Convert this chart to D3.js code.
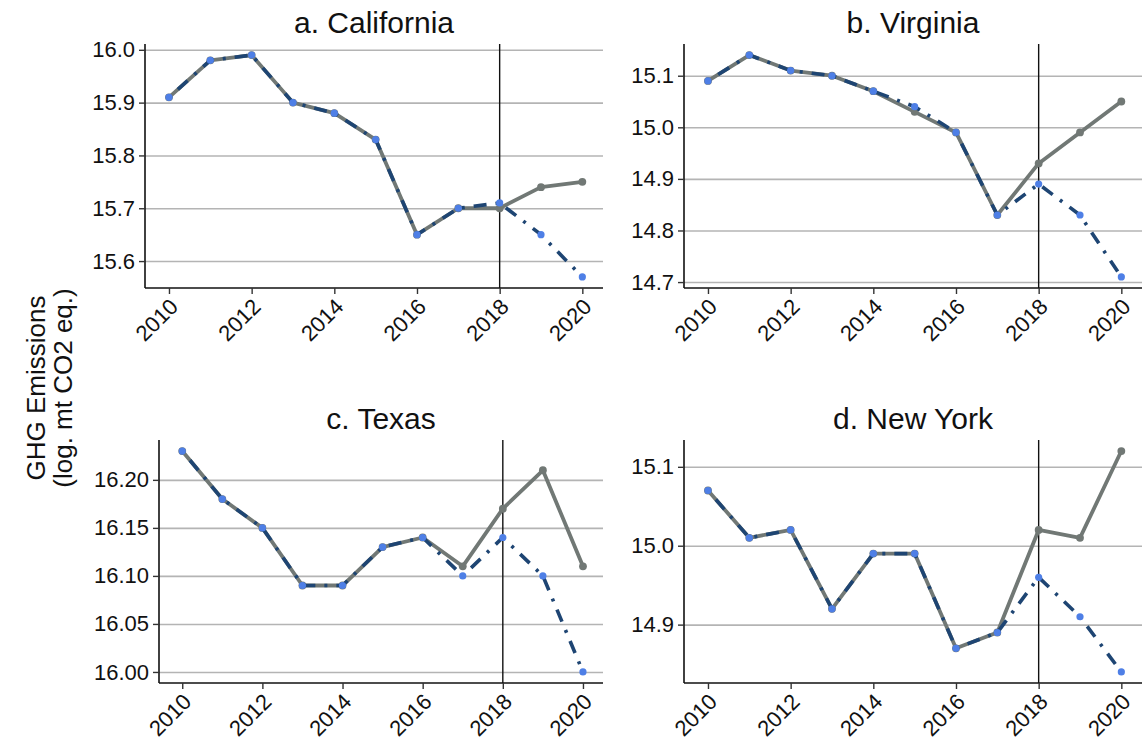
<!DOCTYPE html>
<html>
<head>
<meta charset="utf-8">
<script src="https://cdn.jsdelivr.net/npm/d3@7"></script>
<style>
  body { margin: 0; background: white; }
  svg { font-family: "Liberation Sans", Arial, sans-serif; }
</style>
</head>
<body>
<div id="chart"></div>
<script>
// Data
var years = [2010, 2011, 2012, 2013, 2014, 2015, 2016, 2017, 2018, 2019, 2020];
var xTicks = [2010, 2012, 2014, 2016, 2018, 2020];
var treatYear = 2018;

var titles = ["a. California", "b. Virginia", "c. Texas", "d. New York"];

var caActual = [15.91, 15.98, 15.99, 15.90, 15.88, 15.83, 15.65, 15.70, 15.70, 15.74, 15.75];
var caSynth  = [15.91, 15.98, 15.99, 15.90, 15.88, 15.83, 15.65, 15.70, 15.71, 15.65, 15.57];
var vaActual = [15.09, 15.14, 15.11, 15.10, 15.07, 15.03, 14.99, 14.83, 14.93, 14.99, 15.05];
var vaSynth  = [15.09, 15.14, 15.11, 15.10, 15.07, 15.04, 14.99, 14.83, 14.89, 14.83, 14.71];
var txActual = [16.23, 16.18, 16.15, 16.09, 16.09, 16.13, 16.14, 16.11, 16.17, 16.21, 16.11];
var txSynth  = [16.23, 16.18, 16.15, 16.09, 16.09, 16.13, 16.14, 16.10, 16.14, 16.10, 16.00];
var nyActual = [15.07, 15.01, 15.02, 14.92, 14.99, 14.99, 14.87, 14.89, 15.02, 15.01, 15.12];
var nySynth  = [15.07, 15.01, 15.02, 14.92, 14.99, 14.99, 14.87, 14.89, 14.96, 14.91, 14.84];

var caTicks = [15.6, 15.7, 15.8, 15.9, 16.0];
var vaTicks = [14.7, 14.8, 14.9, 15.0, 15.1];
var txTicks = [16.00, 16.05, 16.10, 16.15, 16.20];
var nyTicks = [14.9, 15.0, 15.1];

var W = 1143, H = 749;

// panel boxes (pixel layout)
var panels = [
  {title: titles[0], actual: caActual, synth: caSynth, ticks: caTicks, fmt: ".1f", x0: 145, x1: 603, y0: 44, y1: 288},
  {title: titles[1], actual: vaActual, synth: vaSynth, ticks: vaTicks, fmt: ".1f", x0: 684, x1: 1142, y0: 44, y1: 288},
  {title: titles[2], actual: txActual, synth: txSynth, ticks: txTicks, fmt: ".2f", x0: 159, x1: 603, y0: 440, y1: 683},
  {title: titles[3], actual: nyActual, synth: nySynth, ticks: nyTicks, fmt: ".1f", x0: 684, x1: 1142, y0: 440, y1: 683}
];

var grayCol = "#717875";
var darkBlue = "#1e4573";
var pointBlue = "#4e7fe6";
var gridCol = "#b4b4b4";
var fontFam = "Liberation Sans, Arial, sans-serif";

var svg = d3.select("#chart")
  .append("svg")
  .attr("width", W)
  .attr("height", H);

// shared y label
var ylab = svg.append("text")
  .attr("transform", "translate(0,388) rotate(-90)")
  .style("text-anchor", "middle")
  .style("font-size", "26px")
  .style("fill", "#111");
ylab.append("tspan").attr("x", 0).attr("y", 45).text("GHG Emissions");
ylab.append("tspan").attr("x", 0).attr("y", 72).text("(log. mt CO2 eq.)");

panels.forEach(function (p) {
  var all = p.actual.concat(p.synth);
  var lo = d3.min(all), hi = d3.max(all);
  var pad = (hi - lo) * 0.05;

  var x = d3.scaleLinear()
    .domain([2009.42, 2020.5])
    .range([p.x0, p.x1]);
  var y = d3.scaleLinear()
    .domain([lo - pad, hi + pad])
    .range([p.y1, p.y0]);

  var g = svg.append("g");

  // gridlines
  g.append("g")
    .attr("transform", "translate(" + p.x0 + ",0)")
    .call(d3.axisLeft(y).tickValues(p.ticks).tickSize(-(p.x1 - p.x0)).tickFormat(""))
    .call(function (s) {
      s.select(".domain").remove();
      s.selectAll("line").attr("stroke", gridCol).attr("stroke-width", 1.6);
    });

  // treatment line
  g.append("line")
    .attr("x1", x(treatYear)).attr("x2", x(treatYear))
    .attr("y1", p.y0).attr("y2", p.y1)
    .attr("stroke", "#111")
    .attr("stroke-width", 1.4);

  var line = d3.line()
    .x(function (d, i) { return x(years[i]); })
    .y(function (d) { return y(d); });

  // actual series
  g.append("path")
    .datum(p.actual)
    .attr("d", line)
    .attr("fill", "none")
    .attr("stroke", grayCol)
    .attr("stroke-width", 3.8)
    .attr("stroke-linejoin", "round");

  g.selectAll(".ptA")
    .data(p.actual)
    .enter().append("circle")
    .attr("cx", function (d, i) { return x(years[i]); })
    .attr("cy", function (d) { return y(d); })
    .attr("r", 3.9)
    .attr("fill", grayCol);

  // synthetic series
  g.append("path")
    .datum(p.synth)
    .attr("d", line)
    .attr("fill", "none")
    .attr("stroke", darkBlue)
    .attr("stroke-width", 3.6)
    .attr("stroke-dasharray", "3,9,13,9");

  g.selectAll(".ptS")
    .data(p.synth)
    .enter().append("circle")
    .attr("cx", function (d, i) { return x(years[i]); })
    .attr("cy", function (d) { return y(d); })
    .attr("r", 3.6)
    .attr("fill", pointBlue);

  // axes
  var yAxis = g.append("g")
    .attr("transform", "translate(" + p.x0 + ",0)")
    .call(d3.axisLeft(y).tickValues(p.ticks).tickFormat(d3.format(p.fmt)).tickSize(6).tickPadding(4));
  yAxis.select(".domain").attr("d", "M0," + p.y0 + "V" + p.y1).attr("stroke", "#111").attr("stroke-width", 1.6);
  yAxis.selectAll("line").attr("stroke", "#333").attr("stroke-width", 1.4);
  yAxis.selectAll("text").style("font-size", "22px").style("fill", "#111").style("font-family", fontFam);

  var xAxis = g.append("g")
    .attr("transform", "translate(0," + p.y1 + ")")
    .call(d3.axisBottom(x).tickValues(xTicks).tickFormat(d3.format("d")).tickSize(6));
  xAxis.select(".domain").attr("d", "M" + p.x0 + ",0H" + p.x1).attr("stroke", "#111").attr("stroke-width", 1.6);
  xAxis.selectAll("line").attr("stroke", "#333").attr("stroke-width", 1.4);
  xAxis.selectAll("text")
    .style("font-size", "22px")
    .style("fill", "#111")
    .style("font-family", fontFam)
    .style("text-anchor", "end")
    .attr("dy", null)
    .attr("y", null)
    .attr("transform", "translate(10,20) rotate(-45)");

  // panel title
  svg.append("text")
    .attr("x", (p.x0 + p.x1) / 2)
    .attr("y", p.y0 - 11)
    .style("text-anchor", "middle")
    .style("font-size", "30px")
    .style("fill", "#111")
    .text(p.title);
});
</script>
</body>
</html>
